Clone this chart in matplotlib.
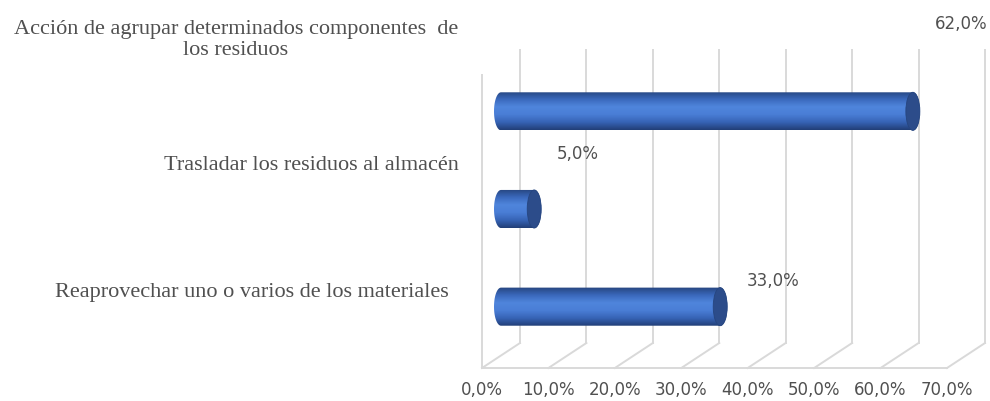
import numpy as np
import matplotlib
matplotlib.use('Agg')
import matplotlib.pyplot as plt
from matplotlib.colors import LinearSegmentedColormap
from matplotlib.patches import Ellipse, PathPatch
from matplotlib.path import Path

# Survey answers (bottom to top) and their shares in percent
categories = [
    "Reaprovechar uno o varios de los materiales",
    "Trasladar los residuos al almacén",
    "Acción de agrupar determinados componentes  de\nlos residuos",
]
values = [33.0, 5.0, 62.0]
x_ticks = [0, 10, 20, 30, 40, 50, 60, 70]

TEXT = '#505050'
GRID = '#d9d9d9'

W, H = 990, 401
fig = plt.figure(figsize=(W / 100, H / 100), dpi=100)
# front plane of the pseudo-3D box, in pixels
left, right, top, bottom = 482, 947, 75, 368
ax = fig.add_axes([left / W, 1 - bottom / H, (right - left) / W, (bottom - top) / H])
ax.set_xlim(0, 70)
ax.set_ylim(-0.5, 2.5)
ax.axis('off')

# depth offset of the back wall in data units
px_x = (right - left) / 70
px_y = (bottom - top) / 3
ddx, ddy = 38 / px_x, 25 / px_y

# walls and floor
for t in x_ticks:
    ax.plot([t + ddx, t + ddx], [-0.5 + ddy, 2.5 + ddy], color=GRID, lw=1.4,
            clip_on=False, zorder=1)
    ax.plot([t, t + ddx], [-0.5, -0.5 + ddy], color=GRID, lw=1.4,
            clip_on=False, zorder=1)
ax.plot([0, 70], [-0.5, -0.5], color=GRID, lw=1.4, clip_on=False, zorder=1)
ax.plot([0, 0], [-0.5, 2.5], color=GRID, lw=1.4, clip_on=False, zorder=1)

# cylinders sit half way into the box
body_cmap = LinearSegmentedColormap.from_list(
    'cyl', ['#26457f', '#3a68bb', '#4f85dc', '#4a7ed6', '#3764b6', '#223f78'])
bar_h = 0.39
cap_w = 14 / px_x
theta = np.linspace(np.pi / 2, 3 * np.pi / 2, 40)
for i, v in enumerate(values):
    x0 = ddx / 2
    x1 = x0 + v
    yc = i + ddy / 2
    # outline: rounded left end, flat top/bottom, rounded right end
    lx = x0 + cap_w / 2 * np.cos(theta)
    ly = yc + bar_h / 2 * np.sin(theta)
    rx = x1 - cap_w / 2 * np.cos(theta)
    ry = yc - bar_h / 2 * np.sin(theta)
    verts = np.concatenate([np.column_stack([lx, ly]), np.column_stack([rx, ry])])
    verts = np.vstack([verts, verts[:1]])
    outline = PathPatch(Path(verts, closed=True), facecolor='none', edgecolor='none',
                        transform=ax.transData)
    ax.add_patch(outline)
    grad = np.linspace(0, 1, 64).reshape(-1, 1)
    im = ax.imshow(grad, cmap=body_cmap, aspect='auto', interpolation='bilinear',
                   extent=[x0 - cap_w, x1 + cap_w, yc - bar_h / 2, yc + bar_h / 2],
                   origin='upper', zorder=3)
    im.set_clip_path(outline)
    ax.add_patch(Ellipse((x1, yc), cap_w, bar_h, facecolor='#2c4c8a',
                         edgecolor='#26457f', lw=0.6, zorder=4))

ax.set_xlim(0, 70)
ax.set_ylim(-0.5, 2.5)

# value labels
label_offsets = [(53, 26), (44, 55), (48, 87)]
for i, v in enumerate(values):
    ax.annotate(f"{v:.1f}%".replace('.', ','), xy=(ddx / 2 + v, i + ddy / 2),
                xytext=label_offsets[i], textcoords='offset pixels',
                ha='center', va='center', fontsize=12, color=TEXT,
                family='DejaVu Sans', zorder=5, annotation_clip=False)

# axis tick labels along the front edge of the floor
for t in x_ticks:
    ax.text(t, -0.5 - 13 / px_y, f"{t:.1f}%".replace('.', ','),
            ha='center', va='top', fontsize=12, color=TEXT, family='DejaVu Sans')

# category names
serif = ['Liberation Serif', 'DejaVu Serif']
fig.text(236 / W, 1 - 40 / H, categories[2], ha='center', va='center', fontsize=16,
         color=TEXT, family=serif, linespacing=1.1, multialignment='center')
fig.text(459 / W, 1 - 165 / H, categories[1], ha='right', va='center', fontsize=16,
         color=TEXT, family=serif)
fig.text(449 / W, 1 - 293 / H, categories[0], ha='right', va='center', fontsize=16,
         color=TEXT, family=serif)

fig.savefig('out.png', dpi=100, facecolor='white')
